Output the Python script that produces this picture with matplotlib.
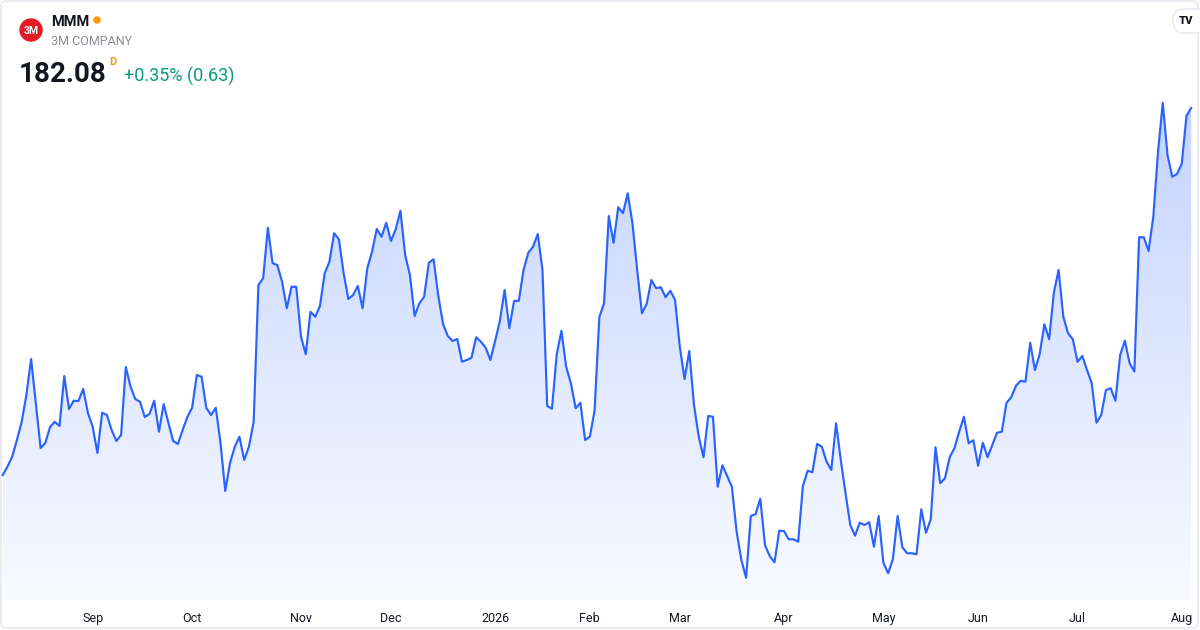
import numpy as np
import matplotlib
matplotlib.use("Agg")
import matplotlib.pyplot as plt
from matplotlib.patches import FancyBboxPatch, Circle

# ---------------- data ----------------
symbol = "MMM"
company = "3M COMPANY"
last_price = "182.08"
change_text = "+0.35% (0.63)"

# daily closes, Aug 5 2025 .. Aug 5 2026 (252 trading days)
prices = [
    152.72, 153.39, 154.18, 155.52, 156.96, 159.12, 162.00, 158.48, 154.88, 155.28,
    156.56, 156.98, 156.64, 160.64, 158.00, 158.66, 158.64, 159.60, 157.68, 156.58,
    154.48, 157.70, 157.52, 156.32, 155.44, 155.92, 161.36, 159.78, 158.80, 158.58,
    157.36, 157.60, 158.66, 156.18, 158.40, 156.88, 155.44, 155.20, 156.32, 157.36,
    158.10, 160.72, 160.58, 158.08, 157.52, 158.10, 155.28, 151.44, 153.68, 154.96,
    155.78, 153.92, 154.98, 156.96, 167.92, 168.46, 172.50, 169.66, 169.52, 168.18,
    166.06, 167.78, 167.78, 163.78, 162.38, 165.78, 165.38, 166.24, 168.86, 169.78,
    172.06, 171.58, 168.86, 166.80, 167.12, 167.84, 166.06, 169.26, 170.58, 172.40,
    171.78, 172.90, 171.44, 172.38, 173.86, 170.32, 168.72, 165.44, 166.46, 166.98,
    169.70, 169.98, 167.04, 164.80, 163.84, 163.44, 163.60, 161.78, 161.92, 162.10,
    163.74, 163.38, 162.90, 161.92, 163.44, 165.06, 167.52, 164.46, 166.64, 166.66,
    169.12, 170.50, 170.98, 172.00, 169.12, 158.24, 158.02, 162.36, 164.26, 161.38,
    160.06, 158.06, 158.50, 155.52, 155.78, 157.86, 165.34, 166.46, 173.44, 171.30,
    174.14, 173.66, 175.26, 172.86, 169.12, 165.66, 166.40, 168.32, 167.66, 167.74,
    166.94, 167.46, 166.72, 162.98, 160.40, 162.64, 158.32, 155.78, 154.14, 157.44,
    157.38, 151.78, 153.50, 152.64, 151.78, 148.18, 145.92, 144.50, 149.44, 149.58,
    150.82, 147.10, 146.22, 145.74, 148.26, 148.24, 147.58, 147.58, 147.38, 151.84,
    153.06, 152.94, 155.20, 154.98, 153.78, 153.12, 156.86, 153.92, 151.26, 148.72,
    147.86, 148.90, 148.72, 148.94, 146.98, 149.44, 145.70, 144.86, 145.98, 149.44,
    146.94, 146.46, 146.46, 146.38, 149.98, 148.10, 149.18, 154.94, 152.06, 152.46,
    154.14, 154.86, 156.18, 157.38, 155.26, 155.50, 153.46, 155.30, 154.14, 155.12,
    156.10, 156.18, 158.50, 158.94, 159.86, 160.26, 160.18, 163.30, 161.12, 162.38,
    164.78, 163.58, 167.30, 169.12, 165.38, 164.06, 163.58, 161.78, 162.24, 161.12,
    160.06, 156.90, 157.52, 159.52, 159.66, 158.66, 162.32, 163.46, 161.66, 161.00,
    171.74, 171.74, 170.64, 173.38, 178.58, 182.50, 178.32, 176.58, 176.80, 177.60,
    181.45, 182.08,
]

# trading-day index of the first session of each month
month_positions = [19, 40, 63, 82, 104, 124, 143, 165, 186, 206, 227, 249]
month_labels = ["Sep", "Oct", "Nov", "Dec", "2026", "Feb", "Mar", "Apr", "May", "Jun", "Jul", "Aug"]

# ---------------- styling ----------------
LINE = "#2962FF"
TEXT = "#131722"
FONT = ["Roboto", "DejaVu Sans"]
plt.rcParams["font.family"] = FONT

W, H = 1200, 630
fig = plt.figure(figsize=(12, 6.3), dpi=100)
fig.patch.set_facecolor("white")

# decoration layer in pixel coordinates
deco = fig.add_axes([0, 0, 1, 1], zorder=0)
deco.set_xlim(0, W)
deco.set_ylim(H, 0)
deco.axis("off")

# main chart
ax = fig.add_axes([1 / W, 1 - 600 / H, 1196 / W, 510 / H], zorder=1)
ax.patch.set_alpha(0)
xs = np.arange(len(prices))
ys = np.array(prices)
ax.set_xlim(-0.36, 252.23)
ax.set_ylim(142.72, 183.52)
ymin, ymax = ax.get_ylim()

# gradient area fill
n = 256
alpha = np.linspace(0.03, 0.28, n)
img = np.zeros((n, 1, 4))
img[:, 0, 0] = 41 / 255
img[:, 0, 1] = 98 / 255
img[:, 0, 2] = 255 / 255
img[:, 0, 3] = alpha
poly = ax.fill_between(xs, ys, ymin, color="none", lw=0)
im = ax.imshow(img, origin="lower", aspect="auto",
               extent=[xs[0], xs[-1], ymin, ys.max()], interpolation="bilinear", zorder=1)
im.set_clip_path(poly.get_paths()[0], ax.transData)

ax.plot(xs, ys, color=LINE, lw=1.55, solid_joinstyle="round", zorder=2)

ax.set_xticks(month_positions, month_labels)
ax.tick_params(axis="x", length=0, pad=8.5, labelsize=9, labelcolor=TEXT)
ax.set_yticks([])
for s in ax.spines.values():
    s.set_visible(False)

# outer frame
deco.add_patch(FancyBboxPatch((1, 1), W - 3, H - 3, boxstyle="round,pad=0,rounding_size=6",
                              fc="none", ec="#e0e3eb", lw=1.0))

# header
deco.add_patch(Circle((31, 30), 11, color="#e31b23"))
deco.text(31, 30.5, "3M", color="white", fontsize=7.5, fontweight="bold",
          ha="center", va="center")
deco.text(51, 26.5, symbol, color=TEXT, fontsize=10.5, fontweight="bold", va="baseline")
deco.add_patch(Circle((97, 20), 3, color="#ff9800"))
deco.text(51, 45, company, color="#8a8d96", fontsize=9, va="baseline")
deco.text(19, 81.5, last_price, color=TEXT, fontsize=20, fontweight="bold", va="baseline")
deco.text(109.5, 65, "D", color="#ff9800", fontsize=8, fontweight="bold", va="baseline")
deco.text(124, 81.5, change_text, color="#089981", fontsize=13, va="baseline")

# TradingView badge
deco.add_patch(FancyBboxPatch((1173, 9), 40, 24, boxstyle="round,pad=0,rounding_size=11",
                              fc="white", ec="#e6e8ee", lw=1.0))
deco.text(1186, 21.5, "TV", color=TEXT, fontsize=8, fontweight="heavy",
          ha="center", va="center")

fig.savefig("out.png", dpi=100, facecolor="white")
